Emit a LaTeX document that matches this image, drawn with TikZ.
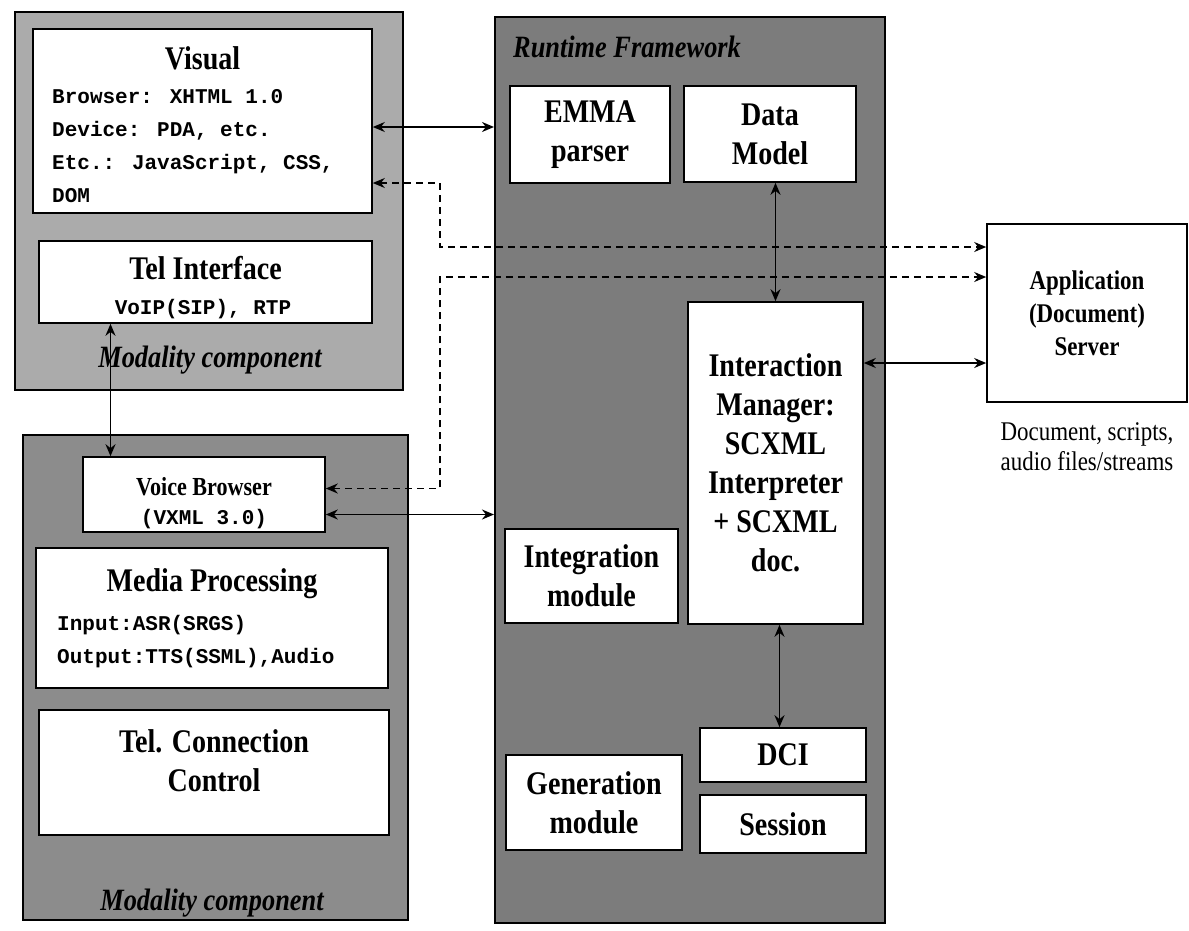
\documentclass[tikz,border=0pt]{standalone}
\usepackage{fontspec}
\setmainfont{Liberation Serif}
\newfontfamily\titlefont{Liberation Serif}[FakeStretch=0.85]
\newfontfamily\monofont{Liberation Mono}
\usetikzlibrary{arrows.meta, positioning}
\definecolor{lightshade}{HTML}{ABABAB}
\definecolor{midshade}{HTML}{8C8C8C}
\definecolor{darkshade}{HTML}{7C7C7C}
\tikzset{
  container/.style={rectangle, draw=black, line width=2pt, inner sep=0pt},
  box/.style={rectangle, draw=black, line width=1.6pt, fill=white,
              inner sep=0pt, align=center,
              font=\titlefont\bfseries\fontsize{33pt}{39pt}\selectfont},
  boxtitle/.style={inner sep=0pt, align=center,
              font=\titlefont\bfseries\fontsize{33pt}{39pt}\selectfont},
  monotext/.style={inner sep=0pt, align=left,
              font=\monofont\bfseries\fontsize{21pt}{33pt}\selectfont},
  grouplabel/.style={inner sep=0pt,
              font=\titlefont\bfseries\itshape\fontsize{31pt}{36pt}\selectfont},
  both/.style={{Stealth[length=12pt,width=10pt]}-{Stealth[length=12pt,width=10pt]},
               line width=1.7pt},
  dashboth/.style={both, dash pattern=on 7pt off 5pt},
}

\begin{document}
\begin{tikzpicture}[x=1pt, y=-1pt]
  \useasboundingbox (0,0) rectangle (1189,930);

  % shaded groups
  \node[container, fill=lightshade, minimum width=388pt, minimum height=378pt]
    (modtop) at (209,201) {};
  \node[container, fill=midshade, minimum width=385pt, minimum height=485pt]
    (modbot) at (215.5,677.5) {};
  \node[container, fill=darkshade, minimum width=390pt, minimum height=906pt]
    (runtime) at (690,470) {};

  \node[grouplabel] (modtoplbl) at (210,360) {Modality component};
  \node[grouplabel] (modbotlbl) at (212,903) {Modality component};
  \node[grouplabel, anchor=west] (runtimelbl) at (513,47) {Runtime Framework};

  % modality component (visual)
  \node[box, minimum width=339pt, minimum height=184pt] (visual) at (202.5,121) {};
  \node[boxtitle] (visualT) at (202.5,58) {Visual};
  \node[monotext, anchor=north west] (visualL) at (52,89)
    {Browser: XHTML 1.0\\Device: PDA, etc.\\Etc.: JavaScript, CSS,\\DOM};
  \node[box, minimum width=333pt, minimum height=82pt] (tel) at (205.5,282) {};
  \node[boxtitle] (telT) at (205.5,268) {Tel Interface};
  \node[monotext] (telL) at (203,309) {VoIP(SIP), RTP};

  % modality component (voice)
  \node[box, minimum width=242pt, minimum height=75pt] (vb) at (204,494.5) {};
  \node[boxtitle, font=\titlefont\bfseries\fontsize{26pt}{30pt}\selectfont]
    (vbT) at (204,487) {Voice Browser};
  \node[monotext] (vbL) at (204,519) {(VXML 3.0)};
  \node[box, minimum width=352pt, minimum height=140pt] (media) at (212,618) {};
  \node[boxtitle] (mediaT) at (212,584) {Media Processing};
  \node[monotext, anchor=north west] (mediaL) at (57,615)
    {Input:ASR(SRGS)\\Output:TTS(SSML),Audio};
  \node[box, minimum width=350pt, minimum height=125pt] (telcc) at (214,772.5) {};
  \node[boxtitle, below=20pt of telcc.north] (telccT) {Tel. Connection\\Control};

  % runtime framework
  \node[box, minimum width=160pt, minimum height=97pt] (emma) at (590,134.5) {EMMA\\parser};
  \node[box, minimum width=172pt, minimum height=96pt] (dm) at (770,134) {Data\\Model};
  \node[box, minimum width=175pt, minimum height=322pt] (im) at (775.5,463)
    {Interaction\\Manager:\\SCXML\\Interpreter\\+ SCXML\\doc.};
  \node[box, minimum width=173pt, minimum height=94pt] (integ) at (591.5,576) {Integration\\module};
  \node[box, minimum width=166pt, minimum height=54pt] (dci) at (783,755) {DCI};
  \node[box, minimum width=166pt, minimum height=58pt] (session) at (783,824) {Session};
  \node[box, minimum width=176pt, minimum height=95pt] (gen) at (594,802.5) {Generation\\module};

  % application server
  \node[box, minimum width=200pt, minimum height=178pt,
        font=\titlefont\bfseries\fontsize{27pt}{33pt}\selectfont]
    (app) at (1087,313) {Application\\(Document)\\Server};
  \node[inner sep=0pt, align=center, below=20pt of app.south,
        font=\titlefont\fontsize{27pt}{30pt}\selectfont]
    (appnote) {Document, scripts,\\audio files/streams};

  % connectors
  \coordinate (bendA) at (440,247);
  \coordinate (bendB) at (440,277);
  \draw[both] ([yshift=-6pt]visual.east) coordinate (visout) -- (visout -| runtime.west);
  \draw[both] ([xshift=-95pt]tel.south) coordinate (telout) -- (telout |- vb.north);
  \draw[both] ([yshift=-20pt]vb.east) coordinate (vbout) -- (vbout -| runtime.west);
  \draw[both] (dm.south -| im.north) -- (im.north);
  \draw[both] ([xshift=4pt]im.south) coordinate (imout) -- (imout |- dci.north);
  \draw[both] ([yshift=100pt]im.east) coordinate (imapp) -- (imapp -| app.west);
  \draw[dashboth] ([yshift=-62pt]visual.east) -| (bendA) -- (bendA -| app.west);
  \draw[dashboth] ([yshift=6pt]vb.east) -| (bendB) -- (bendB -| app.west);

\end{tikzpicture}
\end{document}
